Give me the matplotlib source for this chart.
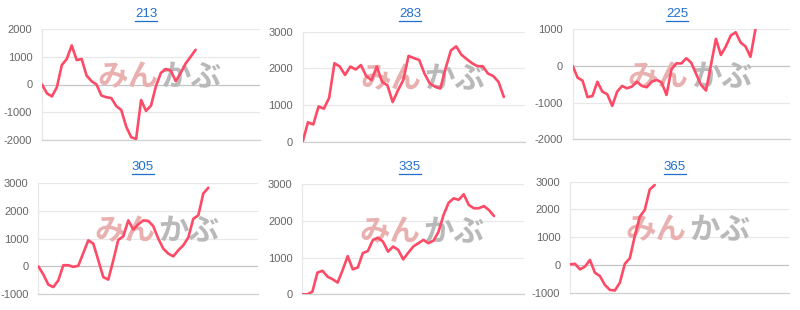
import matplotlib
matplotlib.use("Agg")
import matplotlib.pyplot as plt
from matplotlib.lines import Line2D
import numpy as np

# ---- data ----
titles = ["213", "283", "225", "305", "335", "365"]
slots = [45, 43, 45, 45, 45, 45]

s213 = [0, -320, -430, -100, 700, 920, 1410, 880, 920, 320, 120, 0, -400, -460, -490,
        -780, -920, -1520, -1900, -1960, -560, -950, -760, -60, 420, 560, 500, 120,
        420, 760, 1000, 1250]
s283 = [0, 530, 470, 960, 900, 1200, 2140, 2050, 1820, 2050, 1970, 2090, 1790, 1680,
        2050, 1630, 1540, 1080, 1400, 1680, 2340, 2280, 2230, 1860, 1590, 1500, 1450,
        2000, 2490, 2600, 2370, 2250, 2140, 2060, 2060, 1860, 1790, 1630, 1220]
s225 = [0, -320, -400, -850, -820, -430, -700, -770, -1090, -700, -545, -610, -560,
        -430, -545, -580, -430, -380, -450, -790, -90, 70, 70, 210, 90, -220, -520,
        -670, 30, 740, 300, 530, 830, 920, 640, 530, 250, 1000]
s305 = [0, -290, -660, -750, -510, 40, 40, -20, 20, 480, 940, 820, 220, -390, -480,
        220, 960, 1080, 1660, 1330, 1520, 1660, 1640, 1450, 1000, 640, 460, 360, 580,
        760, 1040, 1720, 1840, 2630, 2840]
s335 = [0, 0, 70, 590, 640, 480, 410, 320, 660, 1040, 680, 730, 1120, 1180, 1480,
        1540, 1430, 1160, 1300, 1210, 950, 1130, 1300, 1390, 1480, 1390, 1460, 1700,
        2160, 2490, 2610, 2570, 2720, 2430, 2340, 2340, 2400, 2290, 2130]
s365 = [20, 40, -160, -60, 180, -280, -400, -720, -900, -920, -640, 40, 240, 1040,
        1740, 1980, 2720, 2880]
series = [s213, s283, s225, s305, s335, s365]

yticks = [[-2000, -1000, 0, 1000, 2000],
          [0, 1000, 2000, 3000],
          [-2000, -1000, 0, 1000],
          [-1000, 0, 1000, 2000, 3000],
          [0, 1000, 2000, 3000],
          [-1000, 0, 1000, 2000, 3000]]

# ---- layout (pixels) ----
W, H = 800, 310
boxes = [(42, 260, 29, 140), (302.7, 525, 31.7, 141.7), (572.7, 790, 29.3, 139.3),
         (38.3, 258.3, 183.3, 294), (302.3, 524.3, 184, 294.3), (570, 789.3, 181.7, 292.7)]
title_pos = [(146, 14), (410, 14), (677, 14), (143, 167), (410, 167), (675, 167)]

LINE = "#fd4a66"
GRID = "#e8e8e8"
ZERO = "#c4c4c4"
TICK = "#666666"
BLUE = "#1f6fce"
FONT = ["Liberation Sans", "DejaVu Sans"]

fig = plt.figure(figsize=(W / 100, H / 100), dpi=100)
fig.patch.set_facecolor("white")

title_texts = []
for i in range(6):
    l, r, t, b = boxes[i]
    ax = fig.add_axes([l / W, 1 - b / H, (r - l) / W, (b - t) / H])
    ax.set_facecolor("none")
    yt = yticks[i]
    ax.set_ylim(yt[0], yt[-1])
    ax.set_xlim(0, slots[i] - 1)
    for v in yt:
        ax.axhline(v, color=ZERO if v == 0 else GRID, lw=0.9, zorder=1)
    for sp in ["top", "right"]:
        ax.spines[sp].set_visible(False)
    ax.spines["left"].set_color(GRID)
    ax.spines["left"].set_linewidth(0.9)
    ax.spines["bottom"].set_color("#d0d0d0")
    ax.spines["bottom"].set_linewidth(0.9)
    ax.set_xticks([])
    ax.set_yticks(yt)
    ax.set_yticklabels([str(v) for v in yt], fontsize=8, color=TICK, family=FONT)
    ax.tick_params(axis="y", length=0, pad=7)

    # watermark
    ax.text(0.533, 0.565, "みん", transform=ax.transAxes, ha="right", va="center",
            fontsize=22, fontweight="bold", color="#e9b0b0",
            family=["Noto Sans CJK JP", "DejaVu Sans"], zorder=2)
    ax.text(0.545, 0.565, "かぶ", transform=ax.transAxes, ha="left", va="center",
            fontsize=22, fontweight="bold", color="#b9b9b9",
            family=["Noto Sans CJK JP", "DejaVu Sans"], zorder=2)

    vals = series[i]
    ax.plot(np.arange(len(vals)), vals, color=LINE, lw=1.9, zorder=3,
            solid_joinstyle="round", solid_capstyle="round")

    tx, ty = title_pos[i]
    tt = fig.text(tx / W, 1 - ty / H, titles[i], ha="center", va="center",
                  fontsize=9.5, color=BLUE, family=FONT)
    title_texts.append(tt)

# underline the titles
fig.canvas.draw()
renderer = fig.canvas.get_renderer()
for tt in title_texts:
    bb = tt.get_window_extent(renderer)
    y = bb.y0 - 0.5
    fig.add_artist(Line2D([bb.x0 / W, bb.x1 / W], [y / H, y / H],
                          transform=fig.transFigure, color=BLUE, lw=0.9))

fig.savefig("out.png", dpi=100, facecolor="white")
